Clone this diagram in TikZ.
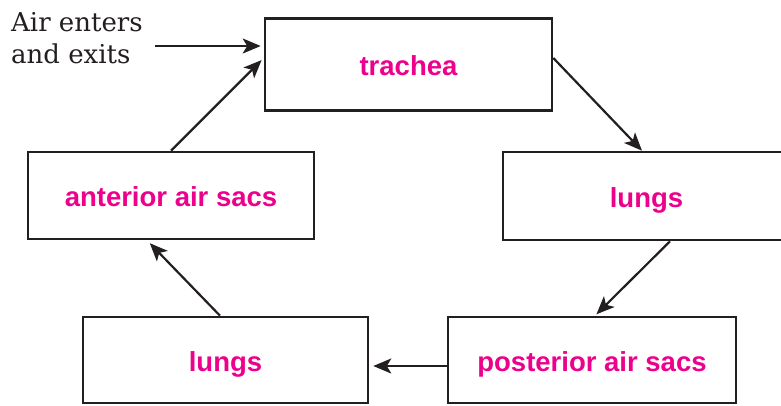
\documentclass[tikz,border=0pt]{standalone}
\usepackage{fontspec}
\setmainfont{DejaVu Serif}
\newfontfamily\labelfont{Liberation Sans}
\usetikzlibrary{arrows.meta}
\definecolor{ink}{HTML}{231F20}
\definecolor{magentalabel}{HTML}{EC008C}
\tikzset{
  stagebox/.style={draw=ink, line width=2.6pt, rectangle, inner sep=0pt,
    text height=22pt, text depth=0pt,
    font=\labelfont\bfseries\fontsize{27.5}{30}\selectfont, text=magentalabel},
  flow/.style={draw=ink, line width=2.2pt,
    -{Stealth[length=18pt, width=15pt, inset=4.5pt]}},
}
\begin{document}
\begin{tikzpicture}[x=1pt, y=-1pt]
\useasboundingbox (0,0) rectangle (781,405);
\clip (0,0) rectangle (781,405);
\node[stagebox, minimum width=287pt, minimum height=92pt] (trachea) at (408.5,64.5) {trachea};
\node[stagebox, minimum width=286pt, minimum height=87pt] (ant) at (171,195.5) {anterior air sacs};
\node[stagebox, minimum width=287pt, minimum height=88pt] (lungR) at (646.5,196) {lungs};
\node[stagebox, minimum width=285pt, minimum height=86pt] (lungL) at (225.5,360) {lungs};
\node[stagebox, minimum width=288pt, minimum height=86pt] (post) at (592,360) {posterior air sacs};
\node[anchor=north west, inner sep=0pt, align=left, text=ink,
  font=\fontsize{26}{32}\selectfont] (air) at (11,12) {Air enters\\and exits};
\coordinate (airstart) at (155,46);
\draw[flow, shorten >=3pt] (airstart) -- ([yshift=18.5pt]trachea.west);
\draw[flow] ([yshift=6.5pt]trachea.east) -- ([xshift=-4.5pt]lungR.north);
\draw[flow, shorten >=2pt] ([xshift=23.5pt]lungR.south) -- ([xshift=3pt]post.north);
\draw[flow, shorten >=4pt] ([yshift=-6pt]post.west) -- ([yshift=-6pt]lungL.east);
\draw[flow, shorten >=4pt] ([xshift=-5.5pt]lungL.north) -- ([xshift=-24pt]ant.south);
\draw[flow, shorten >=3pt] (ant.north) -- ([yshift=6.5pt]trachea.west);
\end{tikzpicture}
\end{document}
